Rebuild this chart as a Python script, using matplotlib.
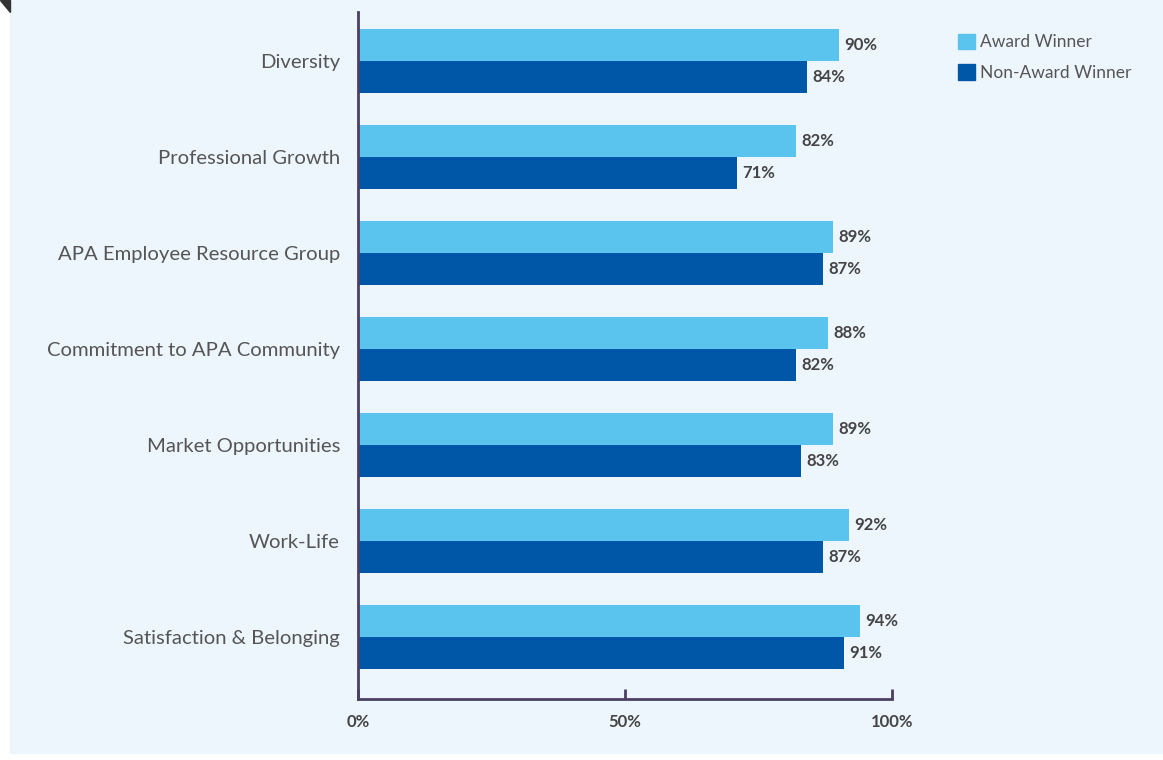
import numpy as np
import matplotlib
matplotlib.use("Agg")
import matplotlib.pyplot as plt
from matplotlib.patches import Rectangle, Polygon, Patch

categorias = ["Diversity", "Professional Growth", "APA Employee Resource Group",
              "Commitment to APA Community", "Market Opportunities", "Work-Life",
              "Satisfaction & Belonging"]
award = [90, 82, 89, 88, 89, 92, 94]
no_award = [84, 71, 87, 82, 83, 87, 91]
series = ["Award Winner", "Non-Award Winner"]
ticks = [0, 50, 100]

col_claro = "#5bc4ee"
col_oscuro = "#0057a8"
fondo = "#eef6fd"
eje = "#4b3f63"

plt.rcParams["font.family"] = ["Lato", "DejaVu Sans"]

fig = plt.figure(figsize=(11.63, 7.6), dpi=100)
fig.patch.set_facecolor("white")
# panel de fondo
fig.patches.append(Rectangle((10 / 1163, 7 / 760), 1 - 10 / 1163, 1 - 7 / 760,
                             transform=fig.transFigure, color=fondo, zorder=-10))
fig.patches.append(Polygon([(0, 1), (10 / 1163, 1), (10 / 1163, 1 - 12 / 760)],
                           closed=True, transform=fig.transFigure, color="#333333", zorder=-5))

ax = fig.add_axes([358 / 1163, 61 / 760, 534 / 1163, 687 / 760])
ax.set_facecolor("none")

y = np.arange(len(categorias))
h = 1 / 3
b1 = ax.barh(y - h / 2, award, height=h, color=col_claro)
b2 = ax.barh(y + h / 2, no_award, height=h, color=col_oscuro)

for barras, vals in [(b1, award), (b2, no_award)]:
    for b, v in zip(barras, vals):
        ax.text(v + 1.0, b.get_y() + b.get_height() / 2, f"{v}%", va="center", ha="left",
                fontsize=12, fontweight="bold", color="#444444")

ax.set_xlim(0, 100)
ax.set_ylim(len(categorias) - 1 + 0.646, -0.51)
ax.set_yticks(y)
ax.set_yticklabels(categorias, fontsize=14.6, color="#555555")
ax.tick_params(axis="y", length=0, pad=13)
ax.set_xticks(ticks)
ax.set_xticklabels([f"{t}%" for t in ticks], fontsize=12, fontweight="bold", color="#444444")
ax.tick_params(axis="x", direction="in", length=7, width=2, color=eje, pad=11)

for s in ["top", "right"]:
    ax.spines[s].set_visible(False)
for s in ["left", "bottom"]:
    ax.spines[s].set_color(eje)
    ax.spines[s].set_linewidth(2)

handles = [Patch(color=col_claro), Patch(color=col_oscuro)]
fig.legend(handles, series, loc="upper left", bbox_to_anchor=(942 / 1163, 1 - 18 / 760),
           frameon=False, fontsize=12.5, handlelength=1.0, handleheight=1.0,
           handletextpad=0.3, labelspacing=0.8, labelcolor="#555555")

fig.savefig("out.png", dpi=100, facecolor=fig.get_facecolor())
